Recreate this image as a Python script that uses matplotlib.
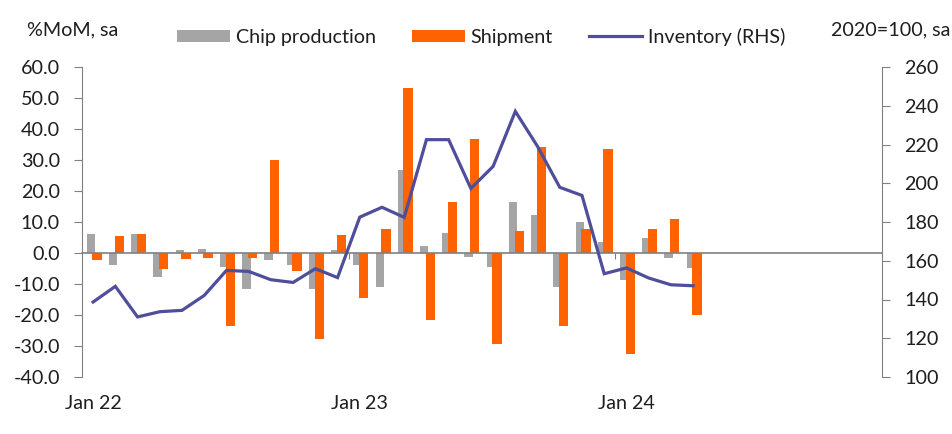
import matplotlib
matplotlib.use("Agg")
import matplotlib.pyplot as plt
import numpy as np
from matplotlib.transforms import blended_transform_factory

plt.rcParams['font.family'] = ['Lato', 'DejaVu Sans']

# ---- data ----
months = ["Jan 22", "Feb 22", "Mar 22", "Apr 22", "May 22", "Jun 22", "Jul 22", "Aug 22",
          "Sep 22", "Oct 22", "Nov 22", "Dec 22", "Jan 23", "Feb 23", "Mar 23", "Apr 23",
          "May 23", "Jun 23", "Jul 23", "Aug 23", "Sep 23", "Oct 23", "Nov 23", "Dec 23",
          "Jan 24", "Feb 24", "Mar 24", "Apr 24", "May 24", "Jun 24", "Jul 24", "Aug 24",
          "Sep 24", "Oct 24", "Nov 24", "Dec 24"]
chip_production = [6.2, -4.0, 6.2, -7.6, 0.9, 1.3, -4.4, -11.5, -2.2, -3.8, -11.5, 0.9,
                   -3.9, -10.9, 26.9, 2.2, 6.3, -1.3, -4.5, 16.5, 12.1, -11.0, 9.9, 3.6,
                   -8.6, 5.0, -1.5, -4.9]
shipment = [-2.2, 5.6, 6.2, -5.2, -1.8, -1.5, -23.5, -1.5, 30.1, -5.7, -27.6, 5.7,
            -14.5, 7.9, 53.2, -21.5, 16.5, 36.8, -29.3, 7.2, 34.1, -23.7, 7.8, 33.4,
            -32.5, 7.8, 11.1, -20.0]
inventory = [138.7, 146.8, 131.0, 133.7, 134.4, 142.1, 155.0, 154.5, 150.2, 148.8, 155.9, 151.3,
             182.5, 187.6, 182.4, 222.5, 222.5, 197.3, 208.7, 237.1, 219.0, 197.9, 193.7, 153.3,
             156.3, 151.1, 147.6, 147.1]
tick_labels = ["Jan 22", "Jan 23", "Jan 24"]
left_ticks = [-40, -30, -20, -10, 0, 10, 20, 30, 40, 50, 60]
right_ticks = [100, 120, 140, 160, 180, 200, 220, 240, 260]

GRAY = '#A5A5A5'
ORANGE = '#FF6200'
NAVY = '#4F4E9B'
AXCOL = '#808080'
TXT = '#1e1e1e'
FS = 14.2

fig = plt.figure(figsize=(9.53, 4.34), dpi=100)
ax = fig.add_axes([82/953, 57/434, 800/953, 310/434])
ax2 = ax.twinx()

n = len(chip_production)
x = np.arange(n)
ax.bar(x - 0.10, chip_production, width=0.375, color=GRAY, zorder=2, label='Chip production')
ax.bar(x + 0.175, shipment, width=0.42, color=ORANGE, zorder=3, label='Shipment')
ax2.plot(x, inventory, color=NAVY, lw=2.3, solid_joinstyle='miter', label='Inventory (RHS)')

ax.set_xlim(-0.5, len(months) - 0.5)
ax.set_ylim(-40, 60)
ax2.set_ylim(100, 260)
ax.set_yticks(left_ticks)
ax.set_yticklabels([f"{v:.1f}" for v in left_ticks])
ax2.set_yticks(right_ticks)
ax2.set_yticklabels([str(v) for v in right_ticks])

# spines
for a in (ax, ax2):
    a.spines['top'].set_visible(False)
ax.spines['right'].set_visible(False)
ax2.spines['left'].set_visible(False)
ax2.spines['bottom'].set_visible(False)
ax.spines['left'].set_color(AXCOL)
ax2.spines['right'].set_color(AXCOL)
ax.spines['bottom'].set_position(('data', 0))
ax.spines['bottom'].set_color(AXCOL)
ax.spines['bottom'].set_linewidth(1.2)
ax.spines['bottom'].set_zorder(4)

# x ticks: year boundaries on the zero line
jan_idx = [months.index(t) for t in tick_labels]
ax.set_xticks([i - 0.5 for i in jan_idx[1:]])
ax.set_xticklabels([])
ax.tick_params(axis='x', length=4, color=AXCOL, direction='out')
tr = blended_transform_factory(ax.transData, ax.transAxes)
for i, lab in zip(jan_idx, tick_labels):
    ax.text(i, -0.087, lab, transform=tr, ha='center', va='center', fontsize=FS, color=TXT)

ax.tick_params(axis='y', length=6, color=AXCOL, pad=10, labelsize=FS, labelcolor=TXT)
ax2.tick_params(axis='y', length=6, color=AXCOL, pad=10, labelsize=FS, labelcolor=TXT)

# titles
fig.text(27/953, 1 - 30/434, "%MoM, sa", ha='left', va='center', fontsize=FS, color=TXT)
fig.text(950/953, 1 - 30/434, "2020=100, sa", ha='right', va='center', fontsize=FS, color=TXT)

# legend
h1, l1 = ax.get_legend_handles_labels()
h2, l2 = ax2.get_legend_handles_labels()
leg = fig.legend(h1 + h2, l1 + l2, ncol=3, loc='center left',
                 bbox_to_anchor=(177/953, 1 - 37/434), bbox_transform=fig.transFigure,
                 frameon=False, fontsize=FS, handlelength=2.7, handleheight=0.6,
                 handletextpad=0.3, columnspacing=1.8, borderpad=0, borderaxespad=0)
for t in leg.get_texts():
    t.set_color(TXT)

fig.savefig("out.png", dpi=100)
